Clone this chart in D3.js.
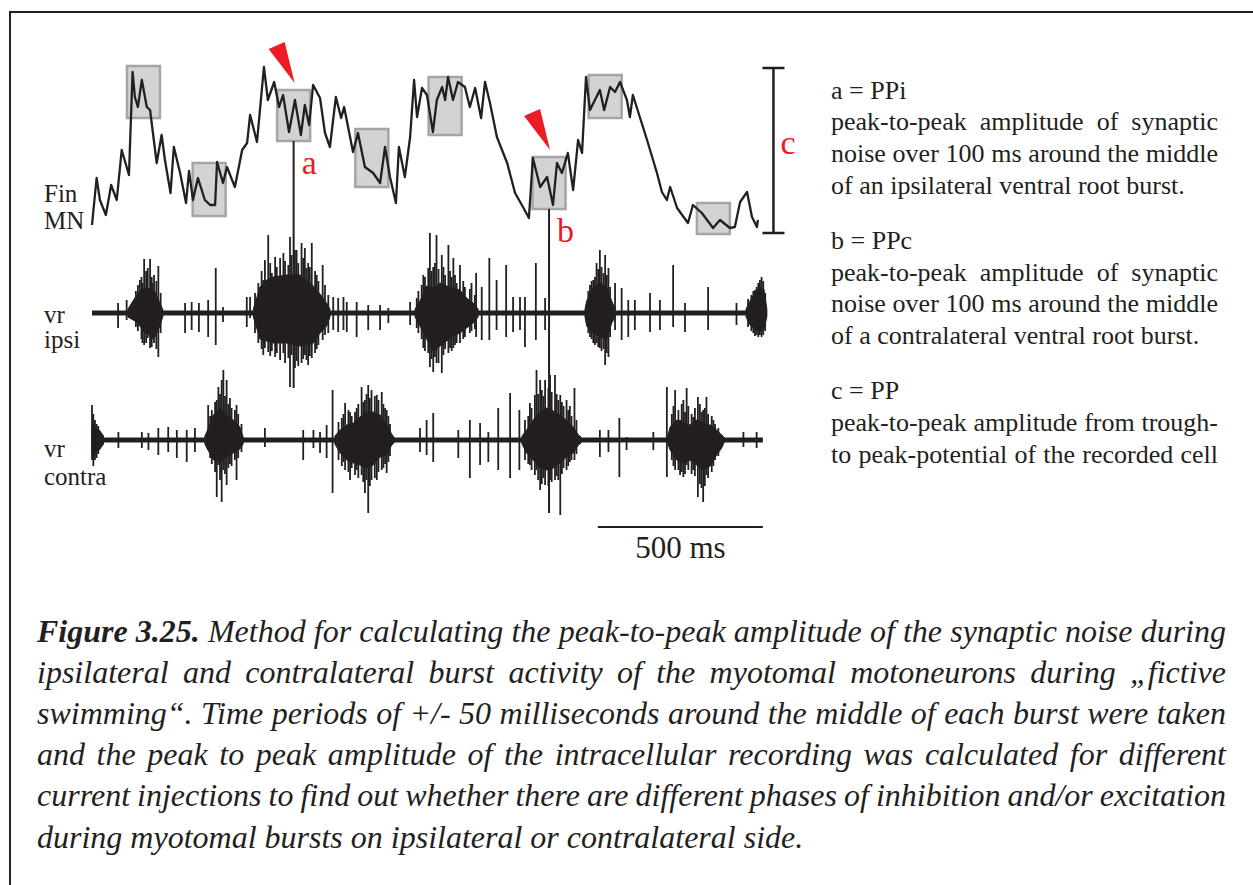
<!DOCTYPE html>
<html><head><meta charset="utf-8">
<script src="https://cdn.jsdelivr.net/npm/d3@7"></script>
<style>html,body{margin:0;padding:0;background:#fff;}svg{display:block;}</style>
</head><body>
<svg id="fig" width="1253" height="885"></svg>
<script>
// ---------- DATA (time in ms, Fin MN in mV above trough, ventral roots in a.u.) ----------
const finMN = [[0,0.7],[14,5.4],[24,3.2],[42,1.7],[58,4.7],[75,3.2],[90,8.2],[112,5.7],[123,16.0],[130,13.5],[139,12.5],[151,15.2],[166,12.5],[176,12.2],[196,6.9],[211,9.7],[221,7.2],[238,3.9],[248,8.5],[267,5.9],[285,2.9],[294,6.1],[306,3.2],[321,5.4],[342,3.2],[358,2.7],[373,2.7],[379,7.0],[397,4.9],[409,6.5],[433,4.5],[455,8.2],[470,8.9],[479,11.7],[500,9.0],[521,16.5],[533,13.2],[552,15.0],[567,12.5],[579,13.7],[597,10.0],[615,13.2],[633,9.7],[645,12.7],[658,10.7],[670,14.7],[691,13.4],[706,9.9],[721,8.5],[739,13.5],[755,11.4],[764,12.5],[782,9.5],[791,8.0],[806,9.9],[827,6.5],[852,5.9],[873,4.9],[888,8.5],[903,5.5],[921,2.9],[930,8.5],[948,5.5],[964,9.5],[976,15.2],[985,11.5],[1000,14.4],[1015,13.7],[1033,10.0],[1045,13.2],[1061,14.5],[1070,13.2],[1079,15.5],[1094,13.2],[1109,15.0],[1130,14.5],[1145,12.5],[1161,14.4],[1179,11.4],[1191,15.0],[1206,12.9],[1227,9.5],[1258,6.9],[1282,3.9],[1306,2.5],[1324,1.4],[1336,7.4],[1358,4.5],[1379,5.5],[1397,2.7],[1409,6.9],[1424,5.9],[1442,7.9],[1458,4.2],[1473,9.2],[1485,7.9],[1497,15.5],[1509,12.2],[1524,13.2],[1539,14.2],[1552,12.2],[1570,14.5],[1585,14.0],[1600,15.0],[1621,13.2],[1630,11.5],[1639,13.7],[1682,9.2],[1712,5.9],[1727,4.0],[1742,3.2],[1752,4.5],[1773,2.4],[1806,0.9],[1821,2.7],[1848,1.9],[1882,0.4],[1903,1.2],[1933,0.4],[1948,0.5],[1964,3.0],[1985,4.0],[2000,1.5],[2015,0.5],[2018,1.2]];

const boxCenters = [156, 355, 611, 848, 1070, 1385, 1555, 1883];
const boxWindowMs = 100;
const boxVmTop = [16.6, 6.9, 14.2, 10.3, 15.5, 7.5, 15.7, 2.9];
const boxVmBottom = [11.4, 1.6, 9.1, 4.5, 9.7, 2.3, 11.4, -0.2];
const ppRange = [-0.1, 16.4];

const markers = [
  {label: "a", box: 2, trace: "ipsi", end: -7.5},
  {label: "b", box: 5, trace: "contra", end: -7.3}
];

const ipsiRange = [0, 2045];
const ipsiBursts = [
 [[109,0.4,-0.4],[130,1.5,-0.8],[145,2.2,-1.3],[161,2.5,-2.0],[176,2.4,-2.2],[191,2.1,-2.4],[206,1.0,-1.3],[215,0.3,-0.3]],
 [[489,0.4,-0.4],[509,2.6,-2.6],[529,3.3,-2.8],[549,3.6,-3.0],[590,3.8,-3.0],[630,3.8,-3.3],[671,2.7,-3.0],[691,1.9,-2.0],[711,1.0,-1.3],[721,0.4,-0.4]],
 [[979,0.4,-0.4],[994,1.2,-1.3],[1014,2.7,-2.6],[1034,2.5,-3.8],[1055,3.0,-3.3],[1075,2.7,-2.8],[1095,2.5,-2.3],[1115,2.3,-2.0],[1135,1.5,-1.5],[1155,1.0,-1.0],[1170,0.4,-0.4]],
 [[1494,0.4,-0.4],[1499,1.2,-1.3],[1519,2.5,-2.0],[1539,3.0,-2.4],[1560,2.5,-2.6],[1575,1.2,-1.0],[1585,0.4,-0.4]],
 [[1982,0.4,-0.4],[1994,1.2,-1.2],[2009,2.0,-1.6],[2024,2.6,-1.8],[2036,2.4,-1.6],[2045,0.4,-0.4]]
];
const ipsiSpikes = [
 [79,1.0,-1.5],[105,1.3,-0.7],
 [133,2.2,-1.4],[139,2.8,-1.8],[145,3.3,-1.2],[150,3.6,-2.6],[153,3.0,-3.0],[158,5.4,-3.2],[164,4.2,-3.0],[169,4.5,-2.5],[176,5.4,-3.5],[181,3.6,-3.4],[185,3.0,-2.6],[188,3.8,-3.0],[195,3.2,-3.6],[201,4.7,-4.4],[208,2.0,-2.0],
 [282,1.0,-2.0],[302,1.1,-1.7],[324,1.0,-1.9],[352,1.3,-2.4],[375,4.5,-3.2],[397,0.6,-0.9],[469,1.6,-1.4],[479,1.6,-0.5],
 [494,2.0,-2.0],[504,3.0,-3.0],[514,4.2,-3.6],[519,3.3,-4.2],[524,5.3,-3.5],[534,7.8,-3.9],[540,5.0,-4.3],[545,4.0,-3.8],[555,5.6,-4.4],[560,4.6,-4.0],[570,5.5,-4.7],[580,6.0,-4.0],[585,5.2,-5.0],[595,4.8,-4.5],[600,7.6,-7.4],[605,5.8,-4.2],[615,6.3,-5.5],[620,6.3,-4.8],[625,5.0,-5.3],[635,7.0,-5.0],[640,5.5,-4.6],[645,6.5,-4.2],[650,4.5,-4.7],[655,5.0,-5.2],[660,4.6,-4.3],[666,7.0,-4.5],[676,4.2,-4.0],[681,3.8,-3.6],[686,3.2,-3.2],[699,4.8,-2.7],[706,2.8,-2.2],[716,1.8,-2.0],
 [731,1.6,-1.7],[746,1.5,-1.9],[762,1.6,-1.7],[772,1.1,-1.9],[802,1.1,-2.4],[837,0.8,-1.7],[873,0.8,-1.7],[898,0.5,-1.0],[964,1.1,-1.2],
 [984,1.5,-1.5],[989,2.2,-2.0],[999,2.8,-2.6],[1004,3.8,-3.5],[1009,3.6,-3.8],[1019,4.5,-4.0],[1024,8.0,-5.4],[1029,4.2,-4.6],[1034,4.6,-5.9],[1039,5.0,-4.4],[1044,7.8,-5.0],[1050,4.4,-5.0],[1060,5.8,-6.0],[1065,4.6,-4.2],[1070,3.8,-3.6],[1080,6.8,-4.0],[1085,4.2,-3.5],[1090,3.6,-3.8],[1095,5.5,-3.5],[1100,3.8,-3.2],[1105,3.0,-3.0],[1115,4.8,-3.0],[1125,3.2,-2.6],[1130,2.6,-2.4],[1145,2.4,-2.0],[1150,3.0,-1.8],[1160,1.8,-1.6],
 [1164,4.0,-2.4],[1181,2.6,-2.7],[1204,5.5,-2.7],[1226,3.3,-1.7],[1255,4.8,-2.4],[1276,1.6,-1.9],[1297,1.6,-1.7],[1312,1.6,-3.4],[1345,5.0,-2.7],[1373,1.5,-1.7],
 [1504,2.2,-2.0],[1509,2.8,-2.4],[1514,3.2,-2.6],[1519,3.3,-3.0],[1524,3.6,-3.2],[1529,5.0,-3.0],[1534,4.4,-3.4],[1539,6.3,-3.5],[1544,4.6,-3.8],[1550,4.0,-3.6],[1555,5.8,-5.2],[1560,3.8,-4.0],[1565,4.5,-4.4],[1570,2.6,-2.4],
 [1585,3.0,-1.7],[1605,2.5,-2.7],[1625,1.3,-2.4],[1645,1.3,-1.7],[1691,2.0,-1.9],[1721,1.3,-1.7],[1761,4.8,-1.4],[1797,1.0,-1.9],[1867,2.6,-1.7],[1953,1.0,-1.2],
 [1988,1.4,-1.4],[1998,1.8,-1.8],[2004,2.2,-2.0],[2009,2.3,-2.3],[2014,2.6,-2.2],[2019,3.0,-2.4],[2024,3.3,-2.2],[2029,3.6,-2.4],[2034,3.2,-2.2],[2040,2.0,-1.8]
];

const contraRange = [0, 2033];
const contraBursts = [
 [[0,1.5,-1.5],[10,1.4,-1.4],[24,0.9,-0.9],[35,0.4,-0.4]],
 [[342,0.4,-0.4],[348,0.8,-0.8],[368,2.5,-2.0],[388,3.2,-2.3],[408,2.5,-1.7],[428,2.0,-1.3],[448,1.3,-0.9],[458,0.3,-0.4]],
 [[736,0.4,-0.4],[752,1.0,-1.3],[772,1.5,-2.0],[792,1.7,-2.3],[812,2.3,-2.5],[832,2.8,-2.8],[852,2.8,-2.5],[873,2.5,-1.7],[893,1.5,-1.5],[908,0.6,-0.5],[915,0.3,-0.3]],
 [[1303,0.4,-0.4],[1317,1.0,-1.3],[1337,2.0,-2.0],[1358,2.8,-2.8],[1378,3.2,-3.0],[1398,2.9,-2.8],[1418,2.5,-2.3],[1438,2.0,-1.7],[1458,1.3,-1.3],[1474,0.5,-0.5],[1482,0.3,-0.3]],
 [[1745,0.4,-0.4],[1752,1.3,-1.0],[1772,2.0,-2.0],[1792,1.7,-2.3],[1812,1.5,-2.0],[1832,2.0,-2.5],[1852,1.7,-3.0],[1873,1.5,-2.6],[1893,1.0,-1.5],[1908,0.5,-0.8],[1915,0.3,-0.3]]
];
const contraSpikes = [
 [0,3.5,-2.0],[4,2.6,-2.6],[9,2.0,-2.0],[14,1.6,-1.8],[19,1.4,-1.4],[80,0.8,-0.8],[151,0.8,-0.8],[171,0.7,-1.0],[201,1.2,-1.5],[231,1.3,-1.2],[257,1.0,-1.8],[287,1.0,-2.2],[312,1.2,-1.2],
 [352,3.5,-1.0],[358,2.4,-1.8],[363,3.0,-2.4],[373,3.8,-3.2],[378,4.0,-5.7],[383,5.3,-2.5],[388,4.6,-4.0],[393,6.0,-6.2],[398,7.0,-3.0],[403,4.4,-3.4],[408,6.0,-4.5],[413,3.6,-2.8],[418,4.2,-2.4],[423,3.2,-2.6],[433,3.0,-2.0],[438,3.5,-4.0],[443,2.6,-1.8],[453,1.6,-1.2],
 [524,1.2,-0.7],[640,1.0,-2.0],[671,1.0,-0.8],[691,0.8,-1.3],[711,1.5,-1.8],[729,5.0,-5.3],
 [747,1.8,-2.0],[757,2.2,-2.6],[762,2.6,-2.2],[767,3.7,-3.0],[777,3.0,-3.2],[782,2.8,-4.0],[787,2.4,-2.8],[797,2.8,-3.5],[802,3.2,-3.0],[807,3.6,-3.8],[817,5.3,-3.5],[822,3.8,-4.2],[827,4.0,-5.3],[832,4.6,-4.0],[837,5.5,-7.3],[842,4.2,-4.6],[847,5.0,-4.0],[857,4.4,-3.8],[863,4.5,-4.0],[868,4.0,-3.2],[878,4.8,-3.0],[883,3.6,-2.8],[888,3.2,-2.4],[893,3.0,-3.3],[898,2.4,-2.2],[903,1.6,-1.6],
 [994,1.2,-1.2],[1014,2.0,-1.5],[1034,2.7,-2.2],[1110,1.0,-1.8],[1145,2.0,-3.8],[1176,1.7,-2.5],[1201,0.8,-2.2],[1231,3.2,-3.0],[1267,4.7,-3.8],[1295,3.0,-3.0],
 [1312,2.0,-2.0],[1322,2.4,-2.4],[1327,3.7,-2.5],[1332,3.2,-3.0],[1342,4.5,-3.5],[1347,7.0,-3.0],[1352,4.6,-4.0],[1358,6.0,-5.0],[1363,5.0,-4.4],[1368,4.4,-3.8],[1373,6.0,-4.5],[1383,5.2,-4.6],[1388,6.5,-4.0],[1393,4.8,-4.2],[1403,6.5,-4.0],[1408,4.6,-3.6],[1413,4.0,-4.0],[1419,4.5,-7.5],[1424,3.8,-3.4],[1429,3.4,-2.8],[1438,4.0,-3.0],[1443,3.0,-2.6],[1448,3.4,-2.2],[1453,2.4,-2.0],[1462,5.2,-2.0],[1468,2.0,-1.4],
 [1539,1.0,-1.7],[1565,1.0,-1.2],[1598,2.2,-3.7],[1620,0.3,-1.0],[1701,0.8,-1.0],[1742,5.3,-3.7],
 [1757,2.6,-2.0],[1762,3.4,-2.6],[1767,5.0,-3.0],[1777,3.0,-3.0],[1782,2.0,-3.5],[1787,3.6,-3.2],[1792,4.0,-3.7],[1797,2.8,-3.4],[1802,5.2,-2.5],[1807,3.4,-3.0],[1817,2.6,-3.4],[1822,2.3,-3.0],[1827,3.2,-3.6],[1836,4.3,-5.7],[1842,3.6,-4.4],[1847,2.8,-4.8],[1852,3.0,-6.2],[1857,3.2,-4.6],[1862,4.3,-3.5],[1867,2.6,-3.8],[1878,2.4,-3.2],[1883,2.0,-2.6],[1888,1.6,-2.0],[1898,1.2,-1.6],
 [1974,0.8,-0.7],[2014,0.8,-0.8]
];
const baselineNoise = 0.25;
const scaleBarMs = 500;
const scaleBarLabel = "500 ms";

const traceLabels = [["Fin", "MN"], ["vr", "ipsi"], ["vr", "contra"]];

const legendParas = [
  {head: "a = PPi", lines: ["peak-to-peak amplitude of synaptic", "noise over 100 ms around the middle", "of an ipsilateral ventral root burst."]},
  {head: "b = PPc", lines: ["peak-to-peak amplitude of synaptic", "noise over 100 ms around the middle", "of a contralateral ventral root burst."]},
  {head: "c = PP", lines: ["peak-to-peak amplitude from trough-", "to peak-potential of the recorded cell"]}
];
const captionLabel = "Figure 3.25.";
const captionLines = [
  "Method for calculating the peak-to-peak amplitude of the synaptic noise during",
  "ipsilateral and contralateral burst activity of the myotomal motoneurons during \u201efictive",
  "swimming\u201c. Time periods of +/- 50 milliseconds around the middle of each burst were taken",
  "and the peak to peak amplitude of the intracellular recording was calculated for different",
  "current injections to find out whether there are different phases of inhibition and/or excitation",
  "during myotomal bursts on ipsilateral or contralateral side."
];

// ---------- DRAWING ----------
const INK = "#231f20", RED = "#ed1c24";
const FONT = "'Liberation Serif','Times New Roman',Times,serif";
const svg = d3.select("#fig");

const x = d3.scaleLinear().domain([0, 2000]).range([92, 752]);
const yFin = d3.scaleLinear().domain([0, 16.4]).range([232, 68]);
const yIpsi = d3.scaleLinear().domain([-10, 10]).range([413, 213]);
const yContra = d3.scaleLinear().domain([-10, 10]).range([540, 340]);

// frame
svg.append("path").attr("d", "M10,885 L10,12 L1253,12").attr("fill", "none").attr("stroke", INK).attr("stroke-width", 2);

// boxes
svg.append("g").selectAll("rect").data(boxCenters).join("rect")
  .attr("x", (c) => x(c - boxWindowMs / 2))
  .attr("width", (c) => x(c + boxWindowMs / 2) - x(c - boxWindowMs / 2))
  .attr("y", (c, i) => yFin(boxVmTop[i]))
  .attr("height", (c, i) => yFin(boxVmBottom[i]) - yFin(boxVmTop[i]))
  .attr("fill", "#d1d3d4").attr("stroke", "#a7a5a4").attr("stroke-width", 2.5);

// Fin MN trace
svg.append("path").datum(finMN)
  .attr("d", d3.line().x(d => x(d[0])).y(d => yFin(d[1])))
  .attr("fill", "none").attr("stroke", INK).attr("stroke-width", 2.3).attr("stroke-linejoin", "round");

// ventral root traces
function drawVR(yS, range, bursts, spikes) {
  const g = svg.append("g");
  g.append("rect").attr("x", x(range[0])).attr("width", x(range[1]) - x(range[0]))
    .attr("y", yS(baselineNoise)).attr("height", yS(-baselineNoise) - yS(baselineNoise)).attr("fill", INK);
  const area = d3.area().x(d => x(d[0])).y0(d => yS(d[2])).y1(d => yS(d[1]));
  g.selectAll("path.burst").data(bursts).join("path").attr("class", "burst")
    .attr("d", area).attr("fill", INK).attr("stroke", INK).attr("stroke-width", 1);
  g.selectAll("line.spk").data(spikes).join("line").attr("class", "spk")
    .attr("x1", d => x(d[0])).attr("x2", d => x(d[0]))
    .attr("y1", d => yS(d[1])).attr("y2", d => yS(d[2]))
    .attr("stroke", INK).attr("stroke-width", 1.8);
}
drawVR(yIpsi, ipsiRange, ipsiBursts, ipsiSpikes);
drawVR(yContra, contraRange, contraBursts, contraSpikes);

// markers a, b
markers.forEach(m => {
  const c = boxCenters[m.box];
  const cx = x(c);
  const yS = m.trace === "ipsi" ? yIpsi : yContra;
  const yTop = yFin(boxVmTop[m.box]);
  const yBot = yFin(boxVmBottom[m.box]);
  svg.append("line").attr("x1", cx).attr("x2", cx).attr("y1", yBot).attr("y2", yS(m.end))
    .attr("stroke", INK).attr("stroke-width", 2);
  const tx = cx + 1, ty = yTop - 7;
  svg.append("path").attr("d", `M${tx},${ty} L${tx - 26},${ty - 34} L${tx - 10},${ty - 41} Z`).attr("fill", RED);
  svg.append("text").attr("x", cx + 8).attr("y", yBot + 33).text(m.label)
    .attr("font-family", FONT).attr("font-size", 34).attr("fill", RED);
});

// c bar
const cbx = x(2065);
const cT = yFin(ppRange[1]), cB = yFin(ppRange[0]);
svg.append("path").attr("d", `M${cbx - 11},${cT} H${cbx + 11} M${cbx},${cT} V${cB} M${cbx - 11},${cB} H${cbx + 11}`)
  .attr("stroke", INK).attr("stroke-width", 2.5).attr("fill", "none");
svg.append("text").attr("x", cbx + 7).attr("y", (cT + cB) / 2 + 3).text("c")
  .attr("font-family", FONT).attr("font-size", 34).attr("fill", RED);

// scale bar
const sbEnd = x(contraRange[1]), sbStart = x(contraRange[1] - scaleBarMs);
svg.append("line").attr("x1", sbStart).attr("x2", sbEnd).attr("y1", 527).attr("y2", 527).attr("stroke", INK).attr("stroke-width", 2);
svg.append("text").attr("x", (sbStart + sbEnd) / 2).attr("y", 558).attr("text-anchor", "middle").text(scaleBarLabel)
  .attr("font-family", FONT).attr("font-size", 31).attr("fill", INK);

// trace labels
const labelBase = [[201.5, 228.5], [323, 348], [456.5, 485]];
traceLabels.forEach((pair, i) => {
  pair.forEach((s, j) => svg.append("text").attr("x", 44).attr("y", labelBase[i][j]).text(s)
    .attr("font-family", FONT).attr("font-size", 25).attr("fill", INK));
});

// text layout helper
const meas = svg.append("text").attr("visibility", "hidden").attr("font-family", FONT);
function measure(s, size, weight, style) {
  meas.attr("font-size", size).attr("font-weight", weight || "normal").attr("font-style", style || "normal").text(s);
  return meas.node().getComputedTextLength();
}
function textLine(words, x0, x1, y, size, justify) {
  const ws = words.map(w => measure(w.t, size, w.w, w.s));
  const sp = measure("a a", size, words[0].w, words[0].s) - measure("aa", size, words[0].w, words[0].s);
  const sum = d3.sum(ws);
  const gap = justify && words.length > 1 ? (x1 - x0 - sum) / (words.length - 1) : sp;
  let cx = x0;
  words.forEach((w, i) => {
    svg.append("text").attr("x", cx).attr("y", y).text(w.t)
      .attr("font-family", FONT).attr("font-size", size).attr("font-weight", w.w || "normal")
      .attr("font-style", w.s || "normal").attr("fill", INK);
    cx += ws[i] + gap;
  });
}
const toWords = (s, st, wt) => s.split(" ").map(t => ({t, s: st, w: wt}));

// legend
let ly = 98.5;
legendParas.forEach((p, pi) => {
  textLine(toWords(p.head), 831, 1218, ly, 26, false);
  ly += 31.7;
  p.lines.forEach((l, li) => {
    const last = li === p.lines.length - 1 && pi < 2;
    textLine(toWords(l), 831, 1218, ly, 26, !last);
    ly += 31.7;
  });
  ly += 23.5;
});

// caption
captionLines.forEach((l, i) => {
  let words = toWords(l, "italic");
  if (i === 0) words = toWords(captionLabel, "italic", "bold").concat(words);
  textLine(words, 37, 1226, 641.5 + i * 41.2, 32, i < captionLines.length - 1);
});
meas.remove();
</script>
</body></html>
